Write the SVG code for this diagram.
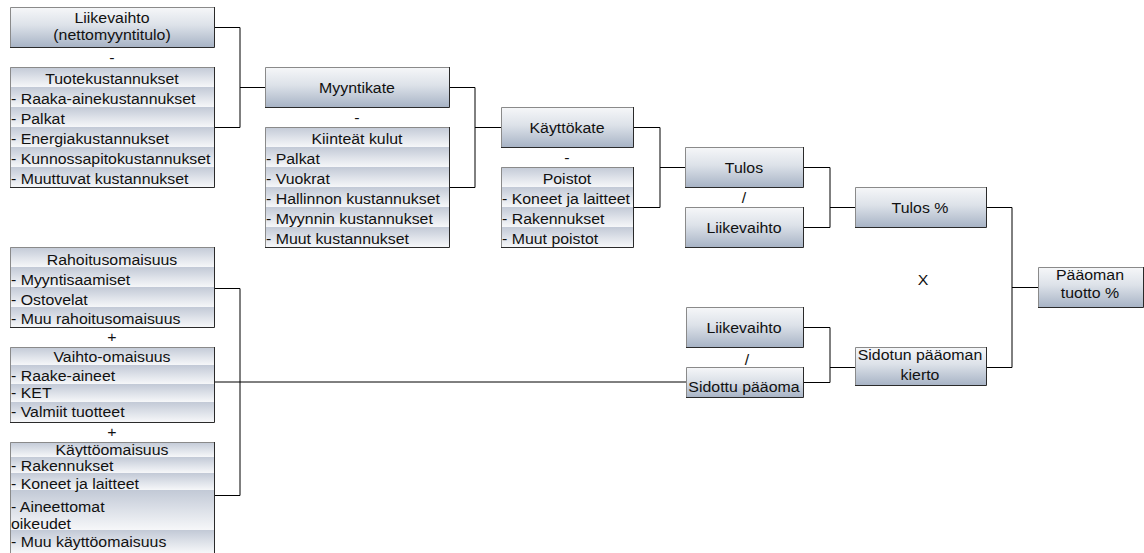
<svg xmlns="http://www.w3.org/2000/svg" width="1144" height="553" viewBox="0 0 1144 553">
  <defs>
    <linearGradient id="gBox" x1="0" y1="0" x2="0" y2="1">
      <stop offset="0" stop-color="#f6f7f9"/>
      <stop offset="0.45" stop-color="#dde2e9"/>
      <stop offset="1" stop-color="#a8b4c6"/>
    </linearGradient>
    <linearGradient id="gRow" x1="0" y1="0" x2="0" y2="1">
      <stop offset="0" stop-color="#c2c9d6"/>
      <stop offset="0.55" stop-color="#dfe3ea"/>
      <stop offset="1" stop-color="#f6f7f9"/>
    </linearGradient>
    <clipPath id="clipKierto">
      <rect x="855" y="347" width="132" height="39"/>
    </clipPath>
    <clipPath id="clipHead">
      <rect x="10" y="442" width="205" height="15"/>
    </clipPath>
  </defs>
  <style>
    text { font-family: "Liberation Sans", Arial, sans-serif; font-size: 15px; fill: #111;
           transform-box: fill-box; transform-origin: left center; transform: scaleX(1.06); }
    .c { text-anchor: middle; transform-origin: center; }
    .box { fill: url(#gBox); }
    .row { fill: url(#gRow); }
    .lt { fill: none; stroke: #8a8a8a; stroke-width: 1; }
    .dk { fill: none; stroke: #2a2a2a; stroke-width: 1; }
    .wire { fill: none; stroke: #000; stroke-width: 1; }
  </style>

  <!-- connectors -->
  <g id="connectors">
    <path class="wire" d="M214 27.5 H240 V127.5 H214 M240 87.5 H265"/>
    <path class="wire" d="M449 87.5 H475 V187.5 H449 M475 127.5 H501"/>
    <path class="wire" d="M633 127.5 H660 V207.5 H633 M660 167.5 H685"/>
    <path class="wire" d="M803 167.5 H830 V227.5 H803 M830 207.5 H855"/>
    <path class="wire" d="M986 207.5 H1012 V367.5 H986 M1012 287.5 H1038"/>
    <path class="wire" d="M803 327.5 H830 V382.5 H803 M830 367.5 H855"/>
    <path class="wire" d="M214 288.5 H240 V495.5 H214"/>
    <path class="wire" d="M214 382 H686"/>
  </g>

  <!-- operators between blocks -->
  <g id="operators">
    <text class="c" x="112" y="63">-</text>
    <text class="c" x="357" y="123">-</text>
    <text class="c" x="567" y="163">-</text>
    <text class="c" x="744" y="203">/</text>
    <text class="c" x="923" y="285">X</text>
    <text class="c" x="747" y="365">/</text>
    <text class="c" x="112" y="342">+</text>
    <text class="c" x="112" y="437">+</text>
  </g>

  <g id="liikevaihto-netto">
    <rect class="box" x="10" y="7" width="204" height="40"/>
    <path class="lt" d="M10.5 47 V7.5 H214"/>
    <path class="dk" d="M214.5 7 V47.5 H10"/>
    <text class="c" x="112" y="23">Liikevaihto</text>
    <text class="c" x="112" y="40">(nettomyyntitulo)</text>
  </g>

  <g id="tuotekustannukset">
    <rect class="row" x="10" y="67" width="204" height="20"/>
    <rect class="row" x="10" y="87" width="204" height="20"/>
    <rect class="row" x="10" y="107" width="204" height="20"/>
    <rect class="row" x="10" y="127" width="204" height="20"/>
    <rect class="row" x="10" y="147" width="204" height="20"/>
    <rect class="row" x="10" y="167" width="204" height="20"/>
    <path class="lt" d="M10.5 187 V67.5 H214"/>
    <path class="dk" d="M214.5 67 V187.5 H10"/>
    <text class="c" x="112" y="84">Tuotekustannukset</text>
    <text x="11" y="104">- Raaka-ainekustannukset</text>
    <text x="11" y="124">- Palkat</text>
    <text x="11" y="144">- Energiakustannukset</text>
    <text x="11" y="164">- Kunnossapitokustannukset</text>
    <text x="11" y="184">- Muuttuvat kustannukset</text>
  </g>

  <g id="myyntikate">
    <rect class="box" x="265" y="67" width="184" height="40"/>
    <path class="lt" d="M265.5 107 V67.5 H449"/>
    <path class="dk" d="M449.5 67 V107.5 H265"/>
    <text class="c" x="357" y="93">Myyntikate</text>
  </g>

  <g id="kiinteat-kulut">
    <rect class="row" x="265" y="127" width="184" height="20"/>
    <rect class="row" x="265" y="147" width="184" height="20"/>
    <rect class="row" x="265" y="167" width="184" height="20"/>
    <rect class="row" x="265" y="187" width="184" height="20"/>
    <rect class="row" x="265" y="207" width="184" height="20"/>
    <rect class="row" x="265" y="227" width="184" height="20"/>
    <path class="lt" d="M265.5 247 V127.5 H449"/>
    <path class="dk" d="M449.5 127 V247.5 H265"/>
    <text class="c" x="357" y="144">Kiinteät kulut</text>
    <text x="266" y="164">- Palkat</text>
    <text x="266" y="184">- Vuokrat</text>
    <text x="266" y="204">- Hallinnon kustannukset</text>
    <text x="266" y="224">- Myynnin kustannukset</text>
    <text x="266" y="244">- Muut kustannukset</text>
  </g>

  <g id="kayttokate">
    <rect class="box" x="501" y="107" width="132" height="40"/>
    <path class="lt" d="M501.5 147 V107.5 H633"/>
    <path class="dk" d="M633.5 107 V147.5 H501"/>
    <text class="c" x="567" y="133">Käyttökate</text>
  </g>

  <g id="poistot">
    <rect class="row" x="501" y="167" width="132" height="20"/>
    <rect class="row" x="501" y="187" width="132" height="20"/>
    <rect class="row" x="501" y="207" width="132" height="20"/>
    <rect class="row" x="501" y="227" width="132" height="20"/>
    <path class="lt" d="M501.5 247 V167.5 H633"/>
    <path class="dk" d="M633.5 167 V247.5 H501"/>
    <text class="c" x="567" y="184">Poistot</text>
    <text x="502" y="204">- Koneet ja laitteet</text>
    <text x="502" y="224">- Rakennukset</text>
    <text x="502" y="244">- Muut poistot</text>
  </g>

  <g id="tulos">
    <rect class="box" x="685" y="147" width="118" height="40"/>
    <path class="lt" d="M685.5 187 V147.5 H803"/>
    <path class="dk" d="M803.5 147 V187.5 H685"/>
    <text class="c" x="744" y="173">Tulos</text>
  </g>

  <g id="liikevaihto-1">
    <rect class="box" x="685" y="207" width="118" height="40"/>
    <path class="lt" d="M685.5 247 V207.5 H803"/>
    <path class="dk" d="M803.5 207 V247.5 H685"/>
    <text class="c" x="744" y="233">Liikevaihto</text>
  </g>

  <g id="tulos-pros">
    <rect class="box" x="855" y="187" width="131" height="40"/>
    <path class="lt" d="M855.5 227 V187.5 H986"/>
    <path class="dk" d="M986.5 187 V227.5 H855"/>
    <text class="c" x="920" y="213">Tulos %</text>
  </g>

  <g id="paaoman-tuotto">
    <rect class="box" x="1038" y="267" width="105" height="40"/>
    <path class="lt" d="M1038.5 307 V267.5 H1143"/>
    <path class="dk" d="M1143.5 267 V307.5 H1038"/>
    <text class="c" x="1090" y="280">Pääoman</text>
    <text class="c" x="1090" y="298">tuotto %</text>
  </g>

  <g id="liikevaihto-2">
    <rect class="box" x="686" y="307" width="117" height="40"/>
    <path class="lt" d="M686.5 347 V307.5 H803"/>
    <path class="dk" d="M803.5 307 V347.5 H686"/>
    <text class="c" x="744" y="333">Liikevaihto</text>
  </g>

  <g id="sidottu-paaoma">
    <rect class="box" x="686" y="367" width="117" height="30"/>
    <path class="lt" d="M686.5 397 V367.5 H803"/>
    <path class="dk" d="M803.5 367 V397.5 H686"/>
    <text class="c" x="744" y="392">Sidottu pääoma</text>
  </g>

  <g id="sidotun-kierto">
    <rect class="box" x="855" y="347" width="131" height="38"/>
    <path class="lt" d="M855.5 385 V347.5 H986"/>
    <path class="dk" d="M986.5 347 V385.5 H855"/>
    <g clip-path="url(#clipKierto)">
      <text class="c" x="920" y="360">Sidotun pääoman</text>
      <text class="c" x="920" y="380">kierto</text>
    </g>
  </g>

  <g id="rahoitusomaisuus">
    <rect class="row" x="10" y="247" width="204" height="20"/>
    <rect class="row" x="10" y="267" width="204" height="20"/>
    <rect class="row" x="10" y="287" width="204" height="20"/>
    <rect class="row" x="10" y="307" width="204" height="20"/>
    <path class="lt" d="M10.5 327 V247.5 H214"/>
    <path class="dk" d="M214.5 247 V327.5 H10"/>
    <text class="c" x="112" y="265">Rahoitusomaisuus</text>
    <text x="11" y="285">- Myyntisaamiset</text>
    <text x="11" y="305">- Ostovelat</text>
    <text x="11" y="324">- Muu rahoitusomaisuus</text>
  </g>

  <g id="vaihto-omaisuus">
    <rect class="row" x="10" y="347" width="204" height="18"/>
    <rect class="row" x="10" y="365" width="204" height="19"/>
    <rect class="row" x="10" y="384" width="204" height="18"/>
    <rect class="row" x="10" y="402" width="204" height="20"/>
    <path class="lt" d="M10.5 422 V347.5 H214"/>
    <path class="dk" d="M214.5 347 V422.5 H10"/>
    <text class="c" x="112" y="362">Vaihto-omaisuus</text>
    <text x="11" y="381">- Raake-aineet</text>
    <text x="11" y="398">- KET</text>
    <text x="11" y="417">- Valmiit tuotteet</text>
  </g>

  <g id="kayttoomaisuus">
    <rect class="row" x="10" y="442" width="204" height="15"/>
    <rect class="row" x="10" y="457" width="204" height="16"/>
    <rect class="row" x="10" y="473" width="204" height="17"/>
    <rect class="row" x="10" y="490" width="204" height="40"/>
    <rect class="row" x="10" y="530" width="204" height="23"/>
    <path class="lt" d="M10.5 553 V442.5 H214"/>
    <path class="dk" d="M214.5 442 V553"/>
    <g clip-path="url(#clipHead)">
      <text class="c" x="112" y="455">Käyttöomaisuus</text>
    </g>
    <text x="11" y="471">- Rakennukset</text>
    <text x="11" y="489">- Koneet ja laitteet</text>
    <text x="11" y="512">- Aineettomat</text>
    <text x="11" y="529">oikeudet</text>
    <text x="11" y="547">- Muu käyttöomaisuus</text>
  </g>
</svg>
